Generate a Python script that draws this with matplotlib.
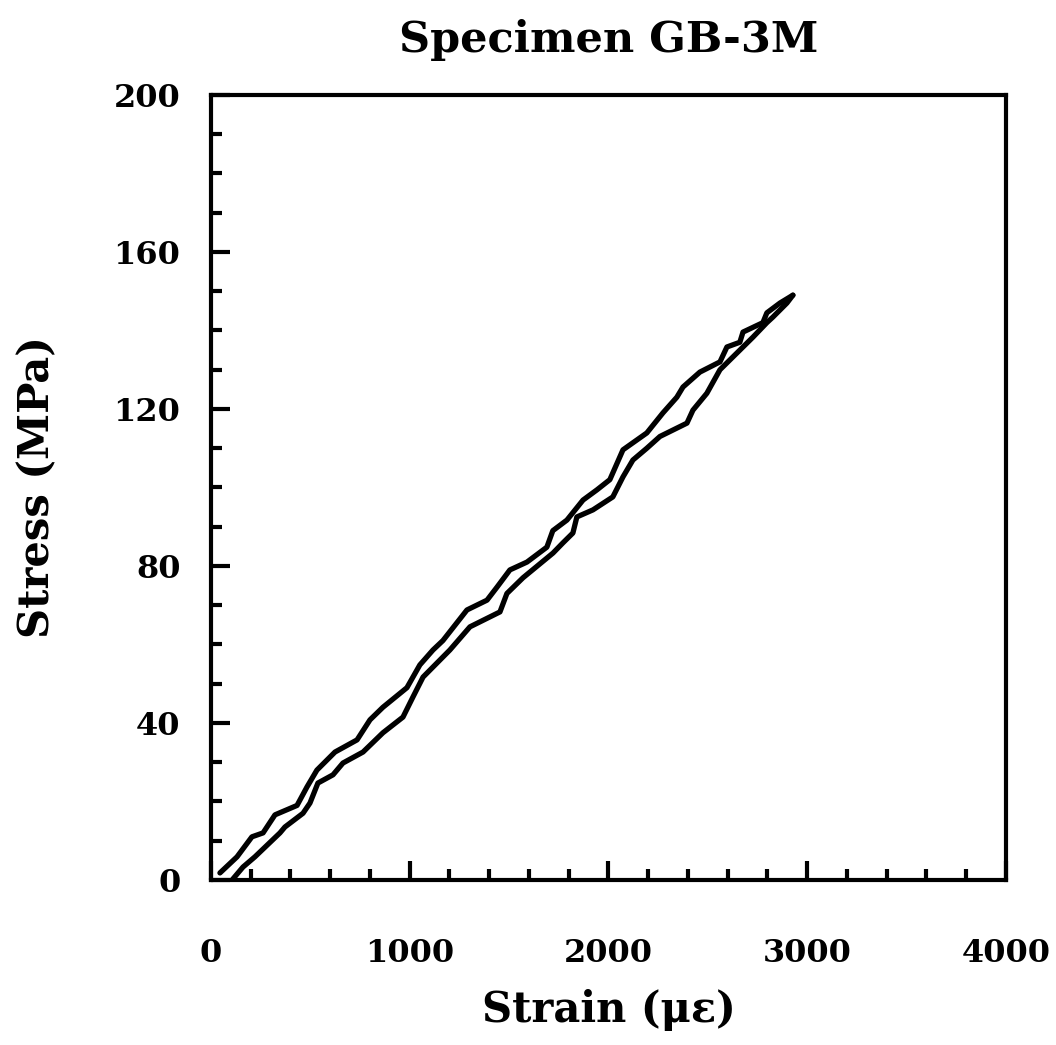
import matplotlib
matplotlib.use("Agg")
import matplotlib.pyplot as plt
from matplotlib.ticker import MultipleLocator

# upper branch of the loop
strain_up = [45, 131, 206, 262, 322, 433, 483, 533, 624, 735, 800, 865, 986,
             1051, 1117, 1167, 1288, 1389, 1439, 1504, 1590, 1690, 1720, 1791,
             1872, 1942, 2007, 2073, 2193, 2274, 2344, 2375, 2460, 2561, 2596,
             2661, 2677, 2777, 2797, 2863, 2928]
stress_up = [1.8, 5.9, 11, 12, 16.6, 19, 23.7, 28, 32.6, 35.7, 40.8, 44, 49,
             54.8, 58.6, 61, 68.8, 71.3, 74.6, 79, 81, 84.8, 89, 91.7,
             96.8, 99.4, 102, 109.6, 113.9, 119, 123, 125.6, 129.4, 132, 135.8,
             137, 139.6, 142, 144.5, 147, 149]

# lower branch
strain_low = [106, 161, 221, 347, 372, 463, 498, 538, 614, 664, 765, 865, 966,
              1016, 1067, 1202, 1303, 1454, 1489, 1570, 1721, 1771, 1821, 1841,
              1922, 2022, 2073, 2123, 2193, 2259, 2395, 2425, 2495, 2561, 2661,
              2727, 2797, 2827, 2898, 2928]
stress_low = [0, 3.3, 5.9, 12, 13.5, 17, 19.6, 24.7, 26.8, 29.8, 32.6, 37.5, 41.5,
              46.6, 51.7, 58.6, 64.5, 68.3, 73, 77, 83.3, 85.9, 88.4, 92.5,
              94.3, 97.6, 102.7, 107, 110, 113, 116.4, 119.7, 124, 130, 135,
              138.3, 142, 143.4, 147, 149]

plt.rcParams['font.family'] = ['DejaVu Serif']
plt.rcParams['font.weight'] = 'bold'

fig = plt.figure(figsize=(10.56, 10.45), dpi=100)
ax = fig.add_axes([0.1998, 0.1579, 0.7528, 0.7512])

ax.plot(strain_up, stress_up, color='black', lw=3.8, solid_joinstyle='round',
        solid_capstyle='round')
ax.plot(strain_low, stress_low, color='black', lw=3.8, solid_joinstyle='round',
        solid_capstyle='round')

ax.set_xlim(0, 4000)
ax.set_ylim(0, 200)
ax.xaxis.set_major_locator(MultipleLocator(1000))
ax.xaxis.set_minor_locator(MultipleLocator(200))
ax.yaxis.set_major_locator(MultipleLocator(40))
ax.yaxis.set_minor_locator(MultipleLocator(10))

for s in ax.spines.values():
    s.set_linewidth(3)
ax.tick_params(which='both', direction='in', top=False, right=False,
               width=3, labelsize=23)
ax.tick_params(axis='x', which='both', pad=42)
ax.tick_params(axis='y', which='both', pad=22)
ax.tick_params(which='major', length=14)
ax.tick_params(which='minor', length=8)

ax.set_xlabel('Strain (\u03bc\u03b5)', fontsize=30, fontweight='bold', labelpad=14)
ax.set_ylabel('Stress (MPa)', fontsize=30, fontweight='bold', labelpad=40)
ax.set_title('Specimen GB-3M', fontsize=31, fontweight='bold', pad=31)

fig.savefig('out.png', dpi=100)
